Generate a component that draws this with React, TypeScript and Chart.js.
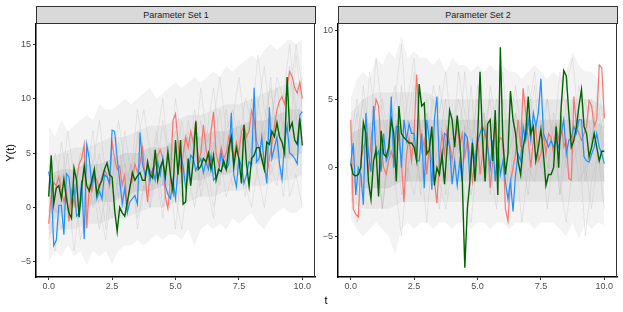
import React, { useEffect, useRef } from "react";
import { Chart, registerables } from "chart.js";
Chart.register(...registerables);

const FONT = "'Liberation Sans', Arial, Helvetica, sans-serif";

// time grid (0 to 10 by 0.1) and band grids
const T = Array.from({ length: 101 }, (_, i) => i / 10);
const T_FINE = Array.from({ length: 41 }, (_, i) => i * 0.25);
const T_BAND = Array.from({ length: 21 }, (_, i) => i * 0.5);

const X_TICKS = [0, 2.5, 5, 7.5, 10];
const X_TICK_LABELS = ["0.0", "2.5", "5.0", "7.5", "10.0"];
const Y1_TICKS = [-5, 0, 5, 10, 15];
const Y1_TICK_LABELS = ["\u22125", "0", "5", "10", "15"];
const Y2_TICKS = [-5, 0, 5, 10];
const Y2_TICK_LABELS = ["\u22125", "0", "5", "10"];

const PANEL_TITLES = ["Parameter Set 1", "Parameter Set 2"];

// ---- Parameter Set 1 highlighted paths ----
const p1Salmon = [
  -1.5, 1.0, 2.3, 2.0, 2.8, 1.5, 0.5, 1.5, -1.3, 1.5,
  0.3, 2.5, 4.0, 4.5, 5.8, -1.9, 2.0, 1.5, 3.0, 2.5,
  1.8, 2.8, 3.5, 3.0, 2.0, 6.0, 4.5, 3.5, 3.8, 2.0,
  3.0, -0.2, 2.0, 2.5, 4.0, 3.2, 4.0, 5.5, 2.8, 0.5,
  3.5, 3.0, 4.0, 4.8, 5.3, 4.5, 1.0, -0.1, 2.5, 8.0,
  8.6, 6.0, 3.5, 4.8, 6.5, 5.5, 7.0, 6.0, 8.0, 4.2,
  5.0, 7.6, 5.5, 4.0, 7.0, 8.8, 5.0, 4.0, 5.5, 4.5,
  5.0, 6.5, 5.5, 4.5, 6.0, 5.0, 7.0, 7.5, 6.5, 7.0,
  8.9, 8.0, 6.0, 5.5, 4.5, 3.5, 2.8, 4.5, 5.8, 7.5,
  9.0, 9.8, 10.2, 9.5, 11.0, 12.5, 12.0, 11.0, 10.5, 11.5,
  10.0,
];
const p1Blue = [
  3.3, 2.0, -3.5, -3.0, 0.2, 0.2, -2.5, 3.1, 2.8, 0.5,
  1.8, -0.8, -0.5, 2.5, -2.9, 5.8, 4.5, 2.0, 3.2, 0.8,
  1.5, 0.8, 3.0, 2.8, 2.2, 7.1, 7.0, 4.5, 2.5, 0.3,
  1.8, -0.5, 0.5, 0.8, 1.1, 0.3, 6.9, 4.0, 3.0, 3.8,
  2.5, 3.5, 2.5, 4.2, 3.0, 4.5, 2.0, 1.2, 0.8, 2.5,
  0.8, 3.5, 5.0, 3.8, 1.8, 3.0, 4.8, 4.5, 3.4, 4.0,
  4.5, 3.2, 4.2, 3.5, 4.8, 2.5, 2.8, 3.2, 5.0, 3.8,
  3.5, 4.0, 8.7, 3.0, 1.9, 4.5, 3.8, 2.2, 3.0, 4.2,
  3.9, 11.0, 4.2, 4.5, 6.5, 4.0, 2.2, 9.2, 4.5, 5.5,
  6.5, 4.0, 2.6, 6.0, 7.5, 5.0, 4.8, 4.5, 4.0, 8.5,
  8.8,
];
const p1Green = [
  1.0, 4.8, 0.3, 1.8, 2.0, 0.8, 2.6, 0.8, -0.5, -1.0,
  3.6, 2.5, -0.9, 1.8, 3.8, 2.0, 1.5, 2.5, 3.5, 1.2,
  2.0, 2.5, 3.5, 4.1, 3.0, 2.8, -0.2, -2.2, 0.0, -0.5,
  -0.8, 0.5, 1.8, 3.2, 2.5, 2.9, 3.2, 2.5, 2.5, 4.2,
  3.0, 2.7, 5.3, 2.5, 3.7, 4.3, 2.8, 5.1, 3.0, 1.5,
  6.2, 3.0, 6.2, 0.3, 0.5, 4.5, 2.0, 4.3, 7.9, 3.5,
  3.8, 4.5, 4.2, 5.0, 3.5, 4.8, 2.5, 3.5, 3.3, 4.3,
  3.5, 5.5, 6.5, 3.8, 5.5, 4.5, 2.2, 7.6, 4.0, 2.0,
  4.5, 4.8, 5.5, 5.5, 4.5, 3.5, 6.0, 5.8, 7.0, 6.5,
  7.8, 6.5, 6.0, 5.0, 12.0, 7.2, 7.8, 6.2, 5.8, 8.2,
  5.7,
];

// ---- Parameter Set 2 highlighted paths ----
const p2Salmon = [
  3.5, -3.0, -3.4, -3.6, 0.5, 1.5, 2.0, -0.5, 2.0, 3.5,
  5.0, 4.5, 1.5, 0.0, -0.5, 0.5, 1.2, 0.5, 3.0, 2.0,
  0.5, -2.5, 1.0, 2.2, 0.5, 2.5, 6.8, 3.5, 1.2, 2.0,
  -0.5, 1.5, 0.5, -1.0, -2.6, 0.5, 2.5, 1.0, 2.8, 1.8,
  0.5, 2.0, 3.0, 1.5, 2.5, 0.8, 2.0, 1.0, -1.0, 0.5,
  2.5, -0.5, 1.0, 3.0, 2.0, -1.5, 0.5, 3.5, 1.5, 2.2,
  2.0, -3.0, -3.9, -1.0, 0.0, 1.0, 3.5, 1.5, 5.8, 4.0,
  2.0, 0.0, 2.0, 3.0, 0.5, 1.0, 2.5, 1.0, 2.5, 2.2,
  1.0, 3.0, 2.0, 3.5, 1.5, 2.0, -0.8, -0.9, 5.2, 3.0,
  2.5, 2.0, 2.5, 3.0, 4.9, 4.5, 3.0, 3.5, 7.5, 7.3,
  3.6,
];
const p2Blue = [
  0.3, 1.8, -2.0, 0.0, -0.5, -2.7, 4.0, 1.0, -0.3, 4.5,
  0.8, 1.2, -0.3, 2.5, 0.5, 1.0, 5.2, 0.0, 3.0, 3.0,
  0.0, 3.5, 2.0, 3.2, 2.5, 2.5, 0.5, 0.5, 2.5, -1.5,
  3.5, 2.0, -1.6, 3.5, 5.2, 0.0, 0.5, 2.5, 2.3, 1.5,
  -1.2, 0.5, -1.3, 0.5, -1.0, 2.5, 2.2, -0.9, 1.8, 0.5,
  1.8, 2.5, 3.0, 2.5, 1.5, 0.0, 2.0, -1.0, 1.5, -0.5,
  0.5, -1.0, -2.3, -1.0, -3.2, -0.5, 1.0, 0.5, 3.0, 2.0,
  3.5, 2.0, 4.0, 3.0, 4.0, 6.5, 2.5, 2.0, 1.5, 2.0,
  1.5, 2.0, 1.5, 2.5, 3.5, 1.0, 2.0, 2.2, 3.0, 2.5,
  3.5, 3.5, 0.8, 0.5, 0.4, 1.0, 1.5, 2.5, 1.5, 1.0,
  0.3,
];
const p2Green = [
  0.3, -0.5, -0.6, -0.5, 0.0, 3.3, 2.5, -1.0, -2.3, 0.5,
  1.3, -2.1, 2.7, 1.0, 0.8, 1.5, 3.5, 2.5, -1.0, 4.5,
  2.5, 2.2, 2.0, 1.8, 1.8, 1.5, 0.5, 6.1, 4.5, 4.7,
  1.0, 1.3, 3.0, -1.3, 0.0, -0.5, 1.0, -1.2, 1.5, 4.2,
  3.5, 1.5, 3.8, 2.0, -1.0, -7.3, -3.0, -1.0, 1.8, -1.0,
  2.0, 7.0, 2.0, -1.0, 3.2, 3.5, 0.5, 4.2, -2.0, 8.8,
  2.0, -0.5, 1.0, 5.6, 3.5, 2.5, 0.5, -0.5, 1.5, 2.5,
  5.2, 2.5, 3.0, 0.5, 1.5, 2.8, 1.0, -1.3, -0.5, -0.5,
  0.0, 3.0, 0.0, 4.5, 7.1, 6.7, 4.0, 1.5, 2.0, 3.0,
  4.5, 5.7, 3.0, 2.5, 0.8, 1.5, 2.5, 1.5, 0.5, 1.2,
  1.2,
];

// ---- grey simulation cloud envelopes ----
const p1OuterUpper = [
  7.5, 6.5, 8, 7, 7.5, 8, 8.5, 8, 9.5, 9, 9, 9.5, 10, 9.5, 10, 10.5, 11, 10, 10.5, 11,
  11.5, 11, 11.5, 12, 11.5, 12, 12.5, 12, 13, 12.5, 13, 13.5, 14, 13.5, 14.5, 15, 14.5, 15, 15.5, 15, 15.5,
];
const p1OuterLower = [
  -5, -4, -4.5, -3.5, -4.5, -4, -5.3, -4, -4.5, -4, -5.2, -4, -3.5, -3.5, -3, -3.5, -3, -2.5, -3, -2.5,
  -2.5, -3, -2, -3.5, -2, -1.5, -2, -1.5, -2, -1, -1.5, -1, -0.5, -1.5, -2, -1, -0.5, 0, -0.5, -0.5, 0,
];
const p1MidUpper = [4.5, 5, 5.5, 5.5, 6, 6.5, 6.5, 7, 7.5, 7.5, 8, 8.5, 8.5, 9, 9.5, 9.5, 10, 10.5, 11, 11.5, 11.5];
const p1MidLower = [-2.5, -2, -2, -1.5, -1.5, -1, -1, -0.5, 0, 0, 0.5, 0.5, 1, 1, 1.5, 1.5, 2, 2, 2.5, 2.5, 3];
const p1CoreUpper = [3, 3.5, 3.5, 4, 4, 4.5, 5, 5, 5.5, 5.5, 6, 6.5, 6.5, 7, 7, 7.5, 8, 8, 8.5, 9, 9];
const p1CoreLower = [-0.5, -0.5, 0, 0, 0.5, 0.5, 1, 1.5, 1.5, 2, 2, 2.5, 2.5, 3, 3, 3.5, 4, 4, 4.5, 4.5, 5];

const p2OuterUpper = [
  5, 6.5, 7, 6.5, 8, 7.5, 8.5, 8, 9.6, 8, 8.5, 8, 8, 7.5, 8, 7, 8, 7.5, 7.5, 7,
  7.5, 7, 7.5, 7, 7.5, 7, 7, 6.5, 7, 7.5, 7, 6.5, 7, 6.5, 7, 8.5, 7.5, 7, 7, 6.5, 6,
];
const p2OuterLower = [
  -3.8, -4.5, -5, -4.5, -4, -4.5, -5, -6.3, -4.5, -4, -4.5, -4, -4, -4.5, -4, -4, -4.5, -4, -4, -4.5,
  -4, -4, -4.5, -4, -4, -4.5, -4, -4, -4, -4.5, -4, -4, -4, -4.5, -5, -4, -5.2, -4, -4.5, -4, -4.2,
];
const p2MidUpper = [4, 5, 5.5, 5.5, 5.5, 5.5, 5.5, 5, 5, 5, 5, 5, 5, 5, 5, 5, 5, 5, 5, 5, 4.5];
const p2MidLower = [-2.5, -3, -3, -3, -2.5, -2.5, -2.5, -2.5, -2.5, -2.5, -2.5, -2.5, -2.5, -2.5, -2.5, -2.5, -2.5, -2.5, -2.5, -2.5, -2.5];
const p2CoreUpper = [2.5, 3, 3.5, 3.5, 3.5, 3.5, 3.5, 3.5, 3.5, 3.5, 3.5, 3.5, 3.5, 3.5, 3.5, 3.5, 3.5, 3.5, 3.5, 3.5, 3];
const p2CoreLower = [-1, -1.5, -1.5, -1.5, -1, -1, -1, -1, -1, -1, -1, -1, -1, -1, -1, -1, -1, -1, -1, -1, -1];

// ---- a few individual faint grey paths (0.25 steps) ----
const p1Grey1 = [2, -1, 3, 0, 4, 1, -2, 2, 5, 1, 3, 6, 2, 4, 1, 5, 3, 7, 2, 5, 4, 8, 3, 6, 2, 7, 5, 9, 4, 6, 8, 5, 10, 6, 8, 11, 7, 9, 13, 8, 10];
const p1Grey2 = [-2, 3, 1, 5, -1, 2, 4, 0, 3, -2, 6, 2, 4, 1, 7, 3, 0, 5, 2, 6, 3, 1, 7, 4, 8, 3, 6, 2, 9, 5, 3, 7, 4, 10, 6, 12, 5, 8, 6, 14, 9];
const p1Grey3 = [4, 1, 6, 2, 0, 5, 3, 7, 1, 4, 2, 8, 4, 2, 6, 9, 5, 3, 8, 4, 10, 6, 4, 9, 5, 7, 11, 6, 4, 8, 12, 7, 5, 9, 13, 8, 11, 7, 10, 15, 11];
const p1Grey4 = [0, -4, 1, -1, 3, -3, 0, 2, -2, 1, -1, 3, 0, 4, -1, 2, 1, 5, 0, 3, -2, 4, 2, 6, 1, 4, 0, 3, 5, 2, 4, 1, 6, 3, 0, 4, 2, 7, 1, 3, 0];
const p1Grey5 = [1, 5, 2, 7, 3, 0, 6, 4, 8, 3, 5, 1, 7, 3, 9, 5, 2, 6, 10, 4, 7, 3, 8, 5, 11, 6, 8, 12, 7, 9, 6, 10, 8, 14, 9, 7, 12, 10, 15, 9, 12];
const p1Grey6 = [-3, 0, -2, 2, -4, 1, -1, 3, 0, -3, 2, -1, 1, 4, -2, 2, 0, 3, -1, 5, 1, -2, 3, 0, 4, 2, -1, 5, 1, 3, 6, 2, 0, 4, 7, 3, 5, 1, 6, 4, 8];

const p2Grey1 = [1, 4, -2, 3, 0, 5, 2, -1, 6, 1, 3, -2, 4, 0, 2, 5, -1, 3, 1, 6, 0, 4, -2, 2, 5, 1, 3, -1, 4, 2, 6, 0, 3, -2, 5, 1, 4, 0, 2, 5, 1];
const p2Grey2 = [-2, 2, 5, 0, 3, -3, 1, 4, 2, -1, 6, 3, 0, 5, 2, -2, 4, 1, 7, 2, -1, 3, 5, 0, 2, -2, 4, 1, 3, 6, 1, -1, 4, 2, 0, 5, 3, -1, 2, 4, 0];
const p2Grey3 = [3, 0, 6, 2, 8, 4, 1, 5, 9, 3, 7, 2, 5, 0, 6, 3, 1, 7, 4, 2, 5, 0, 6, 3, 7, 1, 4, 2, 6, 3, 0, 5, 2, 7, 4, 1, 6, 3, 5, 2, 4];
const p2Grey4 = [-1, -4, 0, -2, 1, -3, 2, -1, -5, 0, -2, 1, -4, 2, -1, -3, 0, 2, -2, -4, 1, -1, 0, -3, 2, -2, 1, -4, 0, -1, 2, -3, 1, -1, -4, 0, 2, -5, -1, 1, -3];
const p2Grey5 = [2, 5, 1, 7, 3, 0, 4, 6, 2, 5, 8, 3, 1, 6, 4, 7, 2, 5, 3, 0, 6, 4, 2, 5, 1, 3, 6, 2, 4, 7, 3, 5, 1, 4, 6, 8, 3, 5, 2, 6, 3];
const p2Grey6 = [0, -2, 3, -1, 2, -3, 1, 3, -2, 0, 2, -1, 4, 1, -3, 2, 0, -1, 3, -2, 1, 4, -1, 2, 0, -3, 2, 1, -2, 3, 0, -1, 2, -2, 1, 3, -1, 0, -3, 1, -1];

const COLORS = {
  salmon: "#F8766D",
  blue: "#1E90FF",
  green: "#006400",
  outer: "#F3F3F3",
  mid: "#E7E7E7",
  core: "#D6D6D6",
  greyLine: "rgba(170,170,170,0.22)",
};

const xy = (xs: number[], ys: number[]) => ys.map((y, i) => ({ x: xs[i], y }));

type PanelDef = {
  left: number;
  width: number;
  yAxisWidth: number;
  yMin: number;
  yMax: number;
  yTicks: number[];
  yLabels: string[];
  salmon: number[];
  blue: number[];
  green: number[];
  outerU: number[];
  outerL: number[];
  midU: number[];
  midL: number[];
  coreU: number[];
  coreL: number[];
  greys: number[][];
};

const framePlugin = {
  id: "frame",
  afterDraw(chart: any) {
    const { ctx, chartArea } = chart;
    ctx.save();
    ctx.strokeStyle = "#333333";
    ctx.lineWidth = 1;
    ctx.beginPath();
    ctx.moveTo(chartArea.right - 0.5, chartArea.top);
    ctx.lineTo(chartArea.right - 0.5, chartArea.bottom);
    ctx.stroke();
    ctx.restore();
  },
};

function Panel({ def, height }: { def: PanelDef; height: number }) {
  const ref = useRef<HTMLCanvasElement | null>(null);
  useEffect(() => {
    if (!ref.current) return;
    const line = (xs: number[], data: number[], color: string, order: number, w: number) => ({
      data: xy(xs, data),
      borderColor: color,
      borderWidth: w,
      pointRadius: 0,
      fill: false,
      order,
      tension: 0,
    });
    const band = (xs: number[], ys: number[], order: number, fill: any, color: string) => ({
      data: xy(xs, ys),
      borderWidth: 0,
      borderColor: "rgba(0,0,0,0)",
      backgroundColor: color,
      pointRadius: 0,
      fill,
      order,
      tension: 0,
    });
    const chart = new Chart(ref.current, {
      type: "line",
      data: {
        datasets: [
          line(T, def.green, COLORS.green, 0, 1.4),
          line(T, def.blue, COLORS.blue, 1, 1.2),
          line(T, def.salmon, COLORS.salmon, 2, 1.2),
          band(T_BAND, def.coreL, 3, false, COLORS.core),
          band(T_BAND, def.coreU, 3, 3, COLORS.core),
          band(T_BAND, def.midL, 4, false, COLORS.mid),
          band(T_BAND, def.midU, 4, 5, COLORS.mid),
          band(T_FINE, def.outerL, 5, false, COLORS.outer),
          band(T_FINE, def.outerU, 5, 7, COLORS.outer),
          ...def.greys.map((g) => line(T_FINE, g, COLORS.greyLine, 2.5, 1)),
        ] as any,
      },
      options: {
        animation: false,
        responsive: false,
        devicePixelRatio: 1,
        layout: { padding: { left: 0, right: 1, top: 24, bottom: 0 } },
        plugins: { legend: { display: false }, tooltip: { enabled: false } },
        scales: {
          x: {
            type: "linear",
            min: -0.5,
            max: 10.5,
            afterBuildTicks: (s: any) => {
              s.ticks = X_TICKS.map((v) => ({ value: v }));
            },
            afterFit: (s: any) => {
              s.height = height - 277;
            },
            ticks: {
              callback: (_v: any, i: number) => X_TICK_LABELS[i],
              color: "#4D4D4D",
              font: { size: 9, family: FONT },
              padding: 1,
              maxRotation: 0,
              autoSkip: false,
            },
            grid: { drawOnChartArea: false, tickLength: 3, color: "#333333" },
            border: { color: "#000000", width: 1.5 },
          },
          y: {
            type: "linear",
            min: def.yMin,
            max: def.yMax,
            afterBuildTicks: (s: any) => {
              s.ticks = def.yTicks.map((v) => ({ value: v }));
            },
            afterFit: (s: any) => {
              s.width = def.yAxisWidth;
            },
            ticks: {
              callback: (_v: any, i: number) => def.yLabels[i],
              color: "#4D4D4D",
              font: { size: 9, family: FONT },
              padding: 2,
              autoSkip: false,
            },
            grid: { drawOnChartArea: false, tickLength: 3, color: "#333333" },
            border: { color: "#000000", width: 1.5 },
          },
        },
      } as any,
      plugins: [framePlugin],
    });
    return () => chart.destroy();
  }, [def, height]);
  return (
    <canvas
      ref={ref}
      width={def.width}
      height={height}
      style={{ position: "absolute", left: def.left, top: 0, width: def.width, height }}
    />
  );
}

const PANEL1: PanelDef = {
  left: 0,
  width: 316,
  yAxisWidth: 36,
  yMin: -6.4,
  yMax: 16.87,
  yTicks: Y1_TICKS,
  yLabels: Y1_TICK_LABELS,
  salmon: p1Salmon,
  blue: p1Blue,
  green: p1Green,
  outerU: p1OuterUpper,
  outerL: p1OuterLower,
  midU: p1MidUpper,
  midL: p1MidLower,
  coreU: p1CoreUpper,
  coreL: p1CoreLower,
  greys: [p1Grey1, p1Grey2, p1Grey3, p1Grey4, p1Grey5, p1Grey6],
};

const PANEL2: PanelDef = {
  left: 300,
  width: 318,
  yAxisWidth: 38,
  yMin: -7.98,
  yMax: 10.49,
  yTicks: Y2_TICKS,
  yLabels: Y2_TICK_LABELS,
  salmon: p2Salmon,
  blue: p2Blue,
  green: p2Green,
  outerU: p2OuterUpper,
  outerL: p2OuterLower,
  midU: p2MidUpper,
  midL: p2MidLower,
  coreU: p2CoreUpper,
  coreL: p2CoreLower,
  greys: [p2Grey1, p2Grey2, p2Grey3, p2Grey4, p2Grey5, p2Grey6],
};

function Strip({ left, width, text }: { left: number; width: number; text: string }) {
  return (
    <div
      style={{
        position: "absolute",
        left,
        top: 6,
        width,
        height: 18,
        boxSizing: "border-box",
        background: "#D9D9D9",
        border: "1px solid #333333",
        fontFamily: FONT,
        fontSize: 9,
        color: "#1A1A1A",
        textAlign: "center",
        lineHeight: "16px",
      }}
    >
      {text}
    </div>
  );
}

export default function App() {
  const H = 312;
  return (
    <div
      style={{
        position: "fixed",
        left: 0,
        top: 0,
        width: 623,
        height: H,
        background: "#FFFFFF",
        overflow: "hidden",
      }}
    >
      <Panel def={PANEL1} height={H} />
      <Panel def={PANEL2} height={H} />
      <Strip left={36} width={280} text={PANEL_TITLES[0]} />
      <Strip left={338} width={280} text={PANEL_TITLES[1]} />
      <div
        style={{
          position: "absolute",
          left: -40,
          top: 146,
          width: 100,
          height: 14,
          lineHeight: "14px",
          textAlign: "center",
          transform: "rotate(-90deg)",
          fontFamily: FONT,
          fontSize: 11,
          color: "#000000",
        }}
      >
        Y(t)
      </div>
      <div
        style={{
          position: "absolute",
          left: 306,
          top: 293,
          width: 40,
          height: 14,
          lineHeight: "14px",
          textAlign: "center",
          fontFamily: FONT,
          fontSize: 11,
          color: "#000000",
        }}
      >
        t
      </div>
    </div>
  );
}
